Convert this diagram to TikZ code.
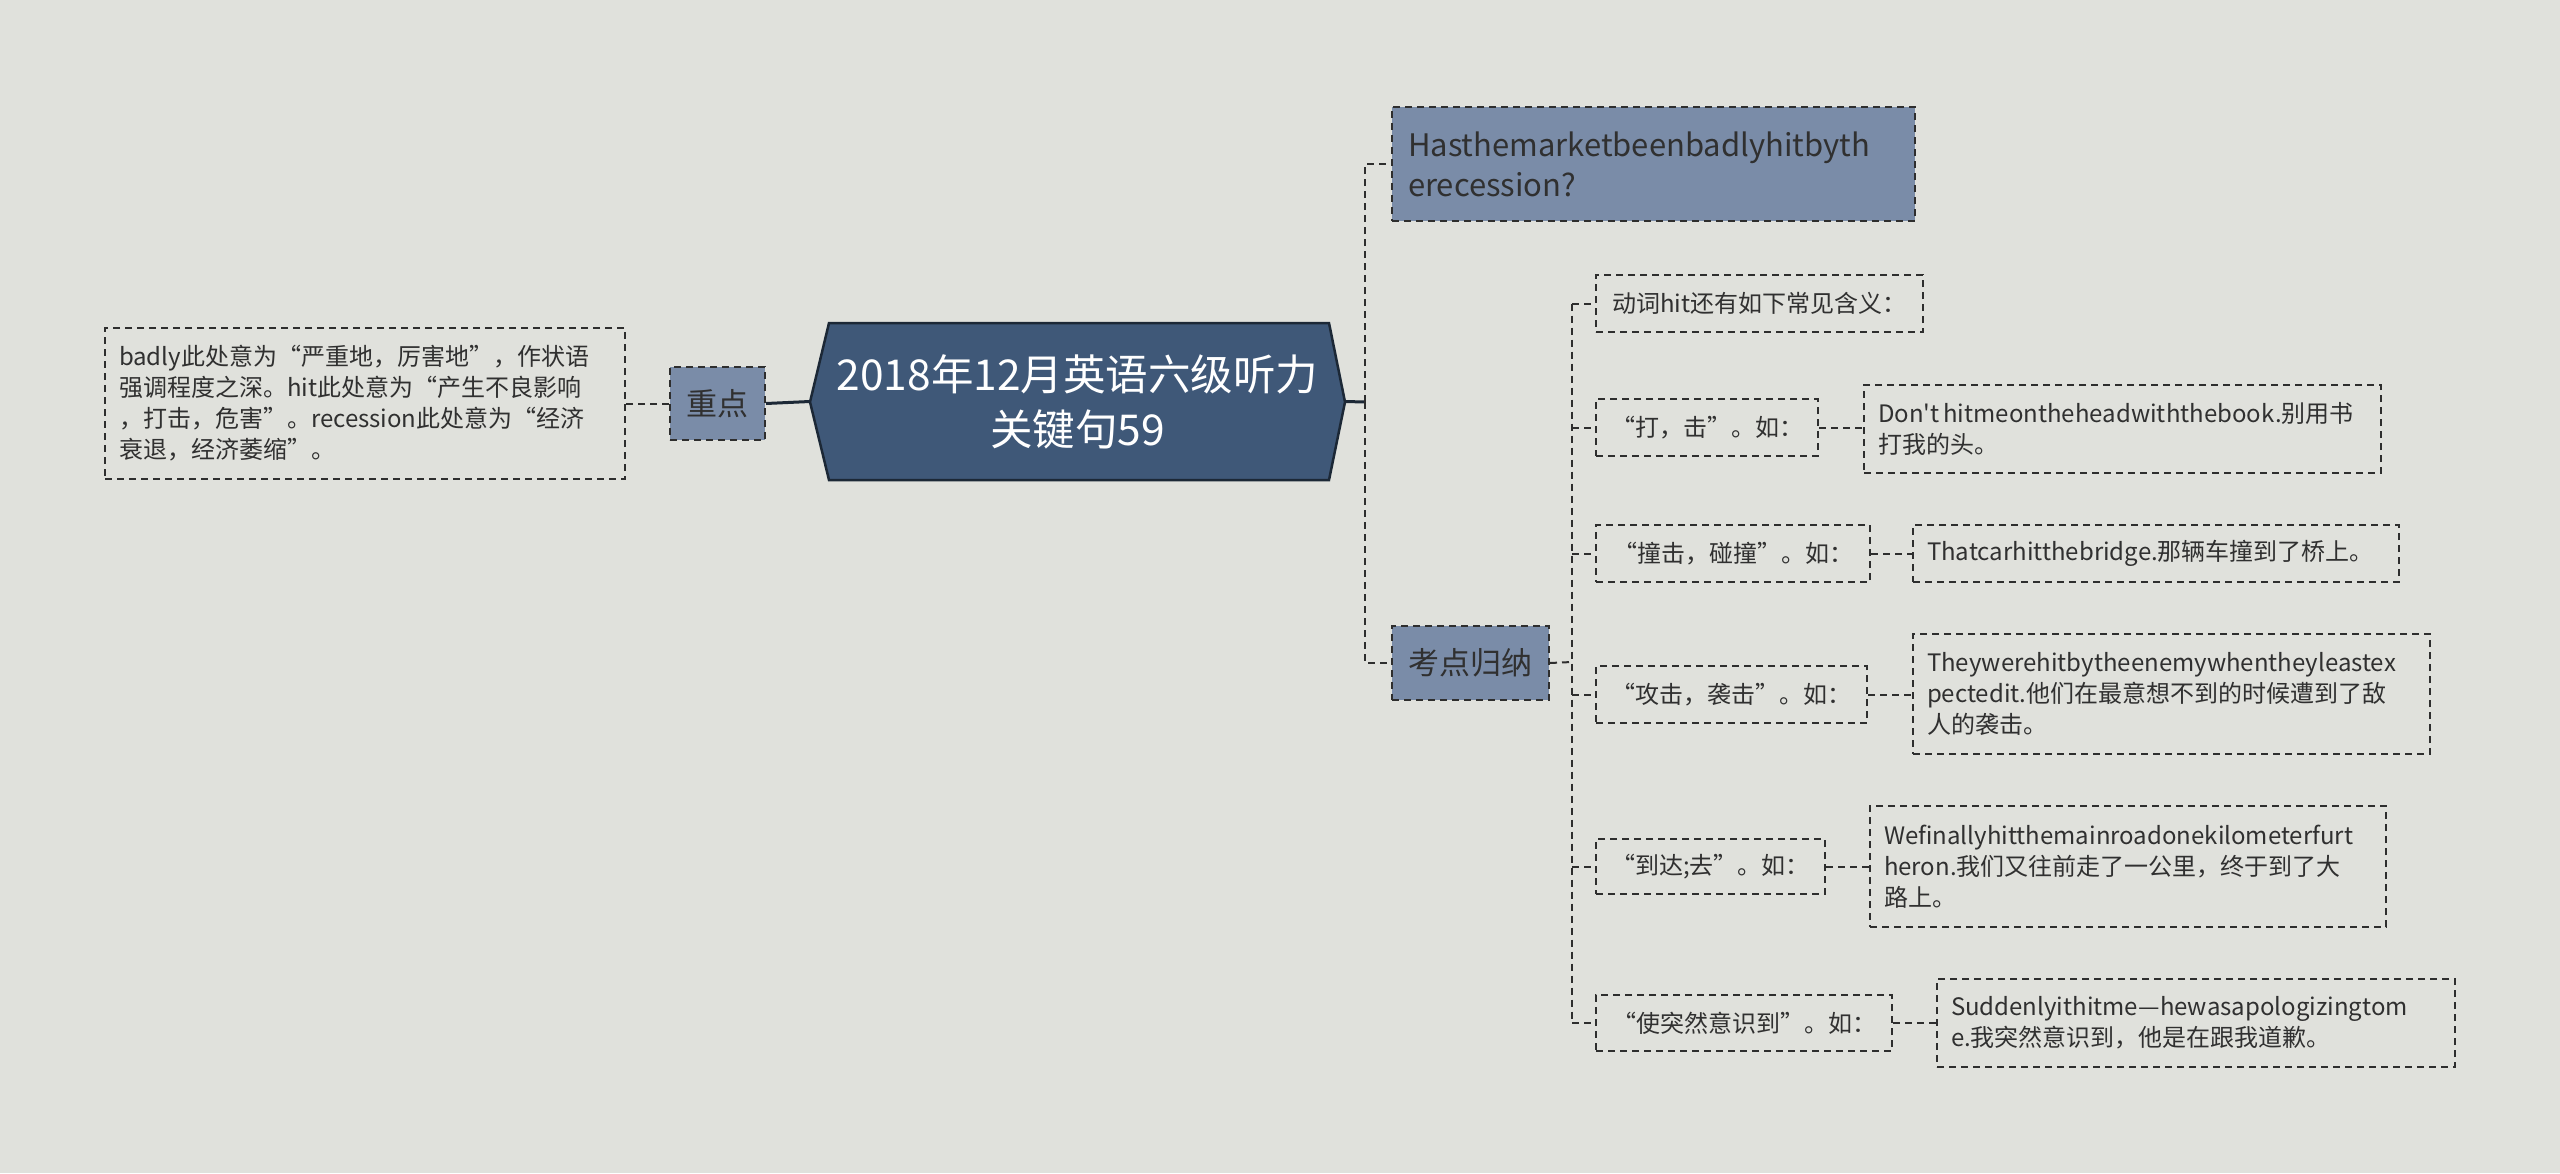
\documentclass[tikz,border=0pt]{standalone}
\usepackage{fontspec}
\setmainfont{Noto Sans CJK SC}[Ligatures=TeXOff]
\newcommand{\fsz}[2]{\fontsize{#1}{#2}\selectfont}
\definecolor{bgc}{HTML}{E0E1DC}
\definecolor{nodefill}{HTML}{7A8CA8}
\definecolor{cfill}{HTML}{3F5878}
\definecolor{cborder}{HTML}{1C2836}
\definecolor{txt}{HTML}{303030}
\definecolor{linec}{HTML}{2E2E2E}
\tikzset{
  conn/.style={draw=linec, line width=2pt, dash pattern=on 7pt off 5pt},
  solidc/.style={draw=cborder, line width=3pt},
  dbox/.style={draw=linec, line width=2pt, dash pattern=on 7pt off 5pt, anchor=north west,
    inner xsep=14pt, inner ysep=0pt, align=left, text=txt, font=\fsz{24}{31}},
  hbox/.style={dbox, fill=nodefill, font=\fsz{31}{40}},
}
\begin{document}
\begin{tikzpicture}[x=1pt,y=-1pt]
\fill[bgc] (0,0) rectangle (2560,1173);
\useasboundingbox (0,0) rectangle (2560,1173);

% central
\fill[cfill, draw=cborder, line width=2.5pt] (810,402) -- (829,323) -- (1329,323) -- (1345,402) -- (1329,480) -- (829,480) -- cycle;
\node[text=white, font=\fsz{42.5}{55}, align=center, minimum width=535pt, minimum height=157pt, inner sep=0pt] (c) at (1077.5,401.5) {2018年12月英语六级听力\\关键句59};

% left
\node[hbox, minimum width=95pt, minimum height=73pt, inner xsep=0pt, align=center] (zd) at (669,366) {重点};
\node[dbox, minimum width=520pt, minimum height=151pt, text width=492pt] (lt) at (104,327) {badly此处意为“严重地，厉害地”，作状语\\强调程度之深。hit此处意为“产生不良影响\\，打击，危害”。recession此处意为“经济\\衰退，经济萎缩”。};

% right top level
\node[hbox, minimum width=523pt, minimum height=114pt, text width=491pt, inner xsep=16pt] (has) at (1391,106) {Hasthemarketbeenbadlyhitbyth\\erecession?};
\node[hbox, minimum width=157pt, minimum height=74pt, inner xsep=0pt, align=center] (kd) at (1391,625) {考点归纳};

% sub items
\node[dbox, minimum width=327pt, minimum height=57pt, inner xsep=0pt, align=center] (s1) at (1595,274) {动词hit还有如下常见含义：};
\node[dbox, minimum width=222pt, minimum height=57pt, inner xsep=0pt, align=center] (s2) at (1595,398) {“打，击”。如：};
\node[dbox, minimum width=274pt, minimum height=57pt, inner xsep=0pt, align=center] (s3) at (1595,524) {“撞击，碰撞”。如：};
\node[dbox, minimum width=271pt, minimum height=57pt, inner xsep=0pt, align=center] (s4) at (1595,665) {“攻击，袭击”。如：};
\node[dbox, minimum width=229pt, minimum height=55pt, inner xsep=0pt, align=center] (s5) at (1595,838) {“到达;去”。如：};
\node[dbox, minimum width=296pt, minimum height=56pt, inner xsep=0pt, align=center] (s6) at (1595,994) {“使突然意识到”。如：};

% examples
\node[dbox, minimum width=517pt, minimum height=88pt, text width=489pt] (e2) at (1863,384) {Don't\,hitmeontheheadwiththebook.别用书\\打我的头。};
\node[dbox, minimum width=486pt, minimum height=57pt, text width=458pt] (e3) at (1912,524) {Thatcarhitthebridge.那辆车撞到了桥上。};
\node[dbox, minimum width=517pt, minimum height=120pt, text width=489pt] (e4) at (1912,633) {Theywerehitbytheenemywhentheyleastex\\pectedit.他们在最意想不到的时候遭到了敌\\人的袭击。};
\node[dbox, minimum width=516pt, minimum height=121pt, text width=488pt] (e5) at (1869,805) {Wefinallyhitthemainroadonekilometerfurt\\heron.我们又往前走了一公里，终于到了大\\路上。};
\node[dbox, minimum width=518pt, minimum height=88pt, text width=490pt] (e6) at (1936,978) {Suddenlyithitme—hewasapologizingtom\\e.我突然意识到，他是在跟我道歉。};

% connectors
\draw[solidc] (c.west) -- (zd.east);
\draw[conn] (zd.west) -- (lt.east);
\coordinate (j1) at (1365,402);
\draw[solidc] (c.east) -- (j1);
\draw[conn] (j1) |- (has.west);
\draw[conn] (j1) |- (kd.west);
\coordinate (j2) at (1572,662);
\draw[conn] (kd.east) -- (j2);
\draw[conn] (j2 |- s1.west) -- (j2 |- s6.west);
\foreach \s in {s1,s2,s3,s4,s5,s6} {\draw[conn] (j2 |- \s.west) -- (\s.west);}
\foreach \s/\e in {s2/e2,s3/e3,s4/e4,s5/e5,s6/e6} {\draw[conn] (\s.east) -- (\s.east -| \e.west);}
\end{tikzpicture}
\end{document}
